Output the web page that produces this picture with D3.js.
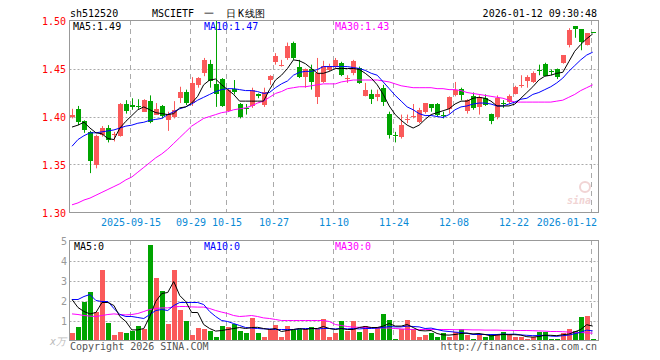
<!DOCTYPE html>
<html lang="zh">
<head>
<meta charset="utf-8">
<title>sh512520 MSCIETF 日K线图</title>
<script src="https://d3js.org/d3.v7.min.js"></script>
<style>
  body { margin: 0; background: #fff; }
  text { font-family: "DejaVu Sans Mono", "Liberation Mono", monospace; font-size: 10px; }
</style>
</head>
<body>
<svg id="kline" width="660" height="360"></svg>
<script>
// trading days shown on the chart
const dates = [
  "2025-09-01","2025-09-02","2025-09-03","2025-09-04","2025-09-05","2025-09-08","2025-09-09","2025-09-10","2025-09-11","2025-09-12",
  "2025-09-15","2025-09-16","2025-09-17","2025-09-18","2025-09-19","2025-09-22","2025-09-23","2025-09-24","2025-09-25","2025-09-26",
  "2025-09-29","2025-09-30","2025-10-09","2025-10-10","2025-10-13","2025-10-14","2025-10-15","2025-10-16","2025-10-17","2025-10-20",
  "2025-10-21","2025-10-22","2025-10-23","2025-10-24","2025-10-27","2025-10-28","2025-10-29","2025-10-30","2025-10-31","2025-11-03",
  "2025-11-04","2025-11-05","2025-11-06","2025-11-07","2025-11-10","2025-11-11","2025-11-12","2025-11-13","2025-11-14","2025-11-17",
  "2025-11-18","2025-11-19","2025-11-20","2025-11-21","2025-11-24","2025-11-25","2025-11-26","2025-11-27","2025-11-28","2025-12-01",
  "2025-12-02","2025-12-03","2025-12-04","2025-12-05","2025-12-08","2025-12-09","2025-12-10","2025-12-11","2025-12-12","2025-12-15",
  "2025-12-16","2025-12-17","2025-12-18","2025-12-19","2025-12-22","2025-12-23","2025-12-24","2025-12-25","2025-12-26","2025-12-29",
  "2025-12-30","2025-12-31","2026-01-05","2026-01-06","2026-01-07","2026-01-08","2026-01-09","2026-01-12"
];

const open = [
  1.400,1.408,1.395,1.384,1.350,1.381,1.388,1.381,1.380,1.413,
  1.412,1.411,1.405,1.416,1.402,1.411,1.397,1.400,1.419,1.425,
  1.414,1.433,1.445,1.455,1.434,1.439,1.406,1.429,1.413,1.409,
  1.411,1.423,1.411,1.438,1.457,1.453,1.460,1.477,1.452,1.442,
  1.450,1.420,1.436,1.449,1.452,1.456,1.439,1.445,1.451,1.422,
  1.423,1.420,1.430,1.403,1.381,1.379,1.396,1.400,1.394,1.405,
  1.413,1.413,1.402,1.408,1.423,1.429,1.406,1.421,1.410,1.419,
  1.403,1.399,1.414,1.415,1.424,1.432,1.437,1.436,1.448,1.455,
  1.447,1.449,1.456,1.474,1.494,1.491,1.475,1.488
];
const high = [
  1.408,1.411,1.396,1.385,1.381,1.390,1.391,1.384,1.414,1.417,
  1.419,1.418,1.418,1.422,1.414,1.412,1.405,1.416,1.431,1.428,
  1.441,1.441,1.461,1.459,1.500,1.440,1.429,1.438,1.414,1.413,
  1.430,1.424,1.430,1.443,1.466,1.459,1.477,1.478,1.459,1.450,
  1.454,1.461,1.458,1.455,1.461,1.457,1.443,1.459,1.452,1.435,
  1.428,1.428,1.433,1.405,1.384,1.402,1.402,1.413,1.409,1.414,
  1.413,1.414,1.405,1.421,1.436,1.430,1.418,1.425,1.422,1.423,
  1.403,1.422,1.417,1.423,1.432,1.443,1.443,1.447,1.454,1.456,
  1.449,1.450,1.464,1.492,1.494,1.491,1.487,1.488
];
const low = [
  1.398,1.391,1.383,1.341,1.346,1.379,1.373,1.374,1.379,1.403,
  1.407,1.408,1.405,1.393,1.402,1.398,1.385,1.398,1.414,1.412,
  1.411,1.430,1.442,1.430,1.410,1.410,1.405,1.423,1.398,1.402,
  1.409,1.419,1.410,1.433,1.454,1.452,1.459,1.459,1.440,1.430,
  1.428,1.413,1.435,1.447,1.450,1.442,1.435,1.443,1.434,1.421,
  1.413,1.416,1.411,1.377,1.373,1.377,1.393,1.398,1.393,1.403,
  1.405,1.400,1.398,1.403,1.421,1.417,1.403,1.407,1.402,1.411,
  1.392,1.397,1.409,1.413,1.423,1.430,1.430,1.435,1.443,1.442,
  1.443,1.439,1.455,1.472,1.482,1.469,1.474,1.487
];
const close = [
  1.402,1.394,1.386,1.354,1.380,1.388,1.376,1.382,1.413,1.406,
  1.410,1.410,1.417,1.394,1.408,1.401,1.403,1.407,1.425,1.414,
  1.435,1.440,1.459,1.437,1.424,1.411,1.428,1.426,1.399,1.408,
  1.428,1.421,1.425,1.442,1.463,1.454,1.473,1.461,1.442,1.450,
  1.436,1.445,1.453,1.453,1.459,1.443,1.440,1.458,1.435,1.428,
  1.418,1.423,1.415,1.381,1.380,1.391,1.397,1.401,1.407,1.414,
  1.409,1.402,1.401,1.420,1.428,1.423,1.417,1.409,1.420,1.412,
  1.396,1.419,1.413,1.421,1.431,1.433,1.441,1.445,1.447,1.443,
  1.446,1.441,1.464,1.490,1.491,1.477,1.487,1.487
];

// price moving averages
const ma5 = [
  1.389,1.391,1.394,1.388,1.383,1.382,1.377,1.376,1.388,1.395,
  1.401,1.407,1.410,1.407,1.404,1.403,1.402,1.403,1.409,1.410,
  1.414,1.421,1.433,1.438,1.439,1.433,1.428,1.423,1.416,1.416,
  1.416,1.416,1.416,1.428,1.438,1.443,1.450,1.459,1.458,1.455,
  1.450,1.445,1.445,1.447,1.450,1.450,1.450,1.450,1.449,1.445,
  1.440,1.433,1.423,1.411,1.402,1.396,1.391,1.388,1.391,1.397,
  1.402,1.404,1.406,1.408,1.413,1.416,1.416,1.419,1.420,1.419,
  1.416,1.411,1.411,1.411,1.413,1.419,1.425,1.431,1.438,1.442,
  1.443,1.445,1.446,1.457,1.468,1.475,1.481,1.486
];
const ma10 = [
  1.369,1.376,1.380,1.383,1.383,1.384,1.385,1.386,1.388,1.390,
  1.391,1.393,1.394,1.396,1.397,1.398,1.402,1.405,1.408,1.410,
  1.413,1.417,1.420,1.423,1.426,1.428,1.429,1.429,1.428,1.427,
  1.427,1.426,1.424,1.425,1.430,1.434,1.437,1.443,1.446,1.447,
  1.447,1.449,1.452,1.452,1.452,1.452,1.452,1.451,1.450,1.448,
  1.445,1.443,1.436,1.429,1.422,1.416,1.410,1.407,1.403,1.401,
  1.401,1.400,1.399,1.402,1.407,1.410,1.411,1.413,1.414,1.414,
  1.413,1.411,1.411,1.413,1.415,1.418,1.419,1.423,1.425,1.428,
  1.431,1.435,1.440,1.447,1.453,1.459,1.464,1.467
];
const ma30 = [
  1.308,1.310,1.313,1.315,1.318,1.321,1.324,1.327,1.330,1.334,
  1.337,1.342,1.347,1.352,1.357,1.361,1.366,1.372,1.378,1.384,
  1.390,1.394,1.398,1.400,1.402,1.404,1.405,1.407,1.408,1.409,
  1.411,1.414,1.416,1.420,1.424,1.426,1.429,1.430,1.431,1.431,
  1.432,1.433,1.434,1.434,1.434,1.436,1.437,1.438,1.438,1.438,
  1.438,1.438,1.437,1.436,1.434,1.432,1.431,1.430,1.430,1.430,
  1.430,1.429,1.429,1.428,1.428,1.427,1.425,1.424,1.423,1.422,
  1.421,1.420,1.419,1.417,1.415,1.415,1.415,1.415,1.415,1.415,
  1.415,1.416,1.417,1.420,1.423,1.427,1.430,1.433
];

// volume, in 万 (10k) units
const volume = [
  0.37,0.67,1.92,2.45,1.42,3.55,0.87,0.30,0.45,0.40,
  0.50,0.75,0.60,4.80,3.15,2.50,0.85,3.55,1.55,0.97,
  0.25,0.62,0.57,0.50,0.20,0.75,0.70,0.85,0.50,0.40,
  1.15,0.37,0.17,0.60,0.80,0.20,0.75,0.55,0.60,0.60,
  0.70,0.60,1.10,0.15,0.37,0.97,0.50,0.97,0.45,0.75,
  0.40,0.70,1.32,1.05,0.10,0.57,1.05,0.60,0.20,0.30,
  0.37,0.15,0.37,0.15,0.45,0.60,0.30,0.10,0.30,0.20,
  0.25,0.30,0.45,0.25,0.20,0.15,0.10,0.15,0.45,0.45,
  0.10,0.05,0.40,0.60,0.50,1.20,1.25,0.05
];
const vma5 = [
  2.05,1.65,1.45,1.33,1.40,1.90,1.90,1.75,1.20,0.95,
  0.53,0.53,0.60,1.20,1.96,2.35,2.40,2.95,2.25,1.95,
  1.40,1.40,0.80,0.60,0.47,0.50,0.55,0.60,0.65,0.60,
  0.65,0.66,0.60,0.55,0.60,0.45,0.50,0.55,0.60,0.55,
  0.60,0.60,0.70,0.60,0.55,0.60,0.55,0.55,0.65,0.70,
  0.65,0.65,0.72,0.85,0.72,0.72,0.80,0.65,0.50,0.48,
  0.50,0.35,0.28,0.27,0.30,0.35,0.37,0.33,0.35,0.30,
  0.23,0.27,0.30,0.29,0.29,0.27,0.19,0.17,0.20,0.26,
  0.26,0.24,0.29,0.32,0.43,0.55,0.79,0.72
];
const vma10 = [
  2.05,2.05,2.20,2.30,2.00,1.95,1.95,1.60,1.30,1.20,
  1.20,1.15,1.10,1.30,1.50,1.55,1.50,1.75,1.90,1.90,
  1.90,1.90,1.80,1.45,1.20,1.00,0.95,0.85,0.75,0.65,
  0.62,0.60,0.58,0.58,0.55,0.55,0.55,0.55,0.58,0.60,
  0.60,0.58,0.60,0.60,0.58,0.60,0.58,0.60,0.58,0.60,
  0.60,0.62,0.65,0.70,0.68,0.68,0.72,0.70,0.68,0.60,
  0.62,0.55,0.48,0.45,0.42,0.40,0.36,0.30,0.30,0.30,
  0.30,0.30,0.32,0.31,0.32,0.28,0.26,0.24,0.25,0.26,
  0.22,0.21,0.24,0.27,0.34,0.41,0.52,0.48
];
const vma30 = [
  1.33,1.30,1.25,1.22,1.20,1.25,1.30,1.33,1.30,1.28,
  1.30,1.35,1.45,1.55,1.60,1.63,1.63,1.68,1.70,1.70,
  1.68,1.67,1.67,1.60,1.50,1.42,1.35,1.25,1.20,1.22,
  1.25,1.20,1.13,1.10,1.05,1.00,1.00,1.00,1.00,1.00,
  1.00,1.00,1.00,0.95,0.80,0.75,0.70,0.67,0.66,0.65,
  0.64,0.63,0.63,0.62,0.60,0.58,0.56,0.55,0.55,0.55,
  0.55,0.55,0.55,0.55,0.54,0.54,0.54,0.53,0.53,0.52,
  0.52,0.52,0.51,0.51,0.50,0.50,0.50,0.49,0.48,0.47,
  0.45,0.45,0.44,0.42,0.41,0.40,0.38,0.37
];

const tickDates = ["2025-09-15","2025-09-29","2025-10-15","2025-10-27","2025-11-10","2025-11-24","2025-12-08","2025-12-22","2026-01-12"];
const tickLabels = ["2025-09-15","09-29","10-15","10-27","11-10","11-24","12-08","12-22","2026-01-12"];
const priceTicks = [1.30, 1.35, 1.40, 1.45, 1.50];
const volTicks = [1, 2, 3, 4, 5];

const RED = "#fa5a5a", GREEN = "#00a400", GRID = "#aaaaaa";

const svg = d3.select("#kline");
svg.append("rect").attr("width", 660).attr("height", 360).attr("fill", "#fff");

const L = 69.5, R = 598.5;
const x = d3.scalePoint().domain(dates).range([72, 592.7]);
const y = d3.scaleLinear().domain([1.30, 1.50]).range([212.5, 20.5]);
const yv = d3.scaleLinear().domain([0, 5]).range([340.5, 240.5]);
const px = d => Math.round(x(d));

// header
svg.append("text").attr("x", 70).attr("y", 17).attr("fill", "#000").text("sh512520");
svg.append("text").attr("x", 152).attr("y", 17).attr("fill", "#000").text("MSCIETF");
const cjk = [{ t: "一", x: 204 }, { t: "日", x: 226 }, { t: "K", x: 238 }, { t: "线图", x: 245 }];
svg.selectAll("text.ttl").data(cjk).join("text")
  .attr("x", d => d.x).attr("y", 17).attr("fill", "#000")
  .attr("font-size", d => d.t === "K" ? "10px" : "12px")
  .attr("font-family", d => d.t === "K" ? null : "Noto Sans CJK SC")
  .text(d => d.t);
svg.append("text").attr("x", 597).attr("y", 17).attr("text-anchor", "end").attr("fill", "#000").text("2026-01-12 09:30:48");

// grids
const grid = svg.append("g");
grid.selectAll("line.vg").data(tickDates).join("line")
  .attr("x1", d => px(d) - 1.5).attr("x2", d => px(d) - 1.5)
  .attr("y1", 20).attr("y2", 212)
  .attr("stroke", GRID).attr("stroke-dasharray", "5,4");
grid.selectAll("line.vg2").data(tickDates).join("line")
  .attr("x1", d => px(d) - 1.5).attr("x2", d => px(d) - 1.5)
  .attr("y1", 240).attr("y2", 340)
  .attr("stroke", GRID).attr("stroke-dasharray", "5,4");
grid.selectAll("line.hg").data(priceTicks.slice(1, -1)).join("line")
  .attr("x1", L).attr("x2", R).attr("y1", d => Math.round(y(d)) + 0.5).attr("y2", d => Math.round(y(d)) + 0.5)
  .attr("stroke", GRID).attr("stroke-dasharray", "2,2");
grid.selectAll("line.hv").data(volTicks.slice(0, -1)).join("line")
  .attr("x1", L).attr("x2", R).attr("y1", d => Math.round(yv(d)) + 0.5).attr("y2", d => Math.round(yv(d)) + 0.5)
  .attr("stroke", GRID).attr("stroke-dasharray", "2,2");

// watermark
svg.append("text").attr("x", 567).attr("y", 204)
  .attr("fill", "#f1d4d4").attr("font-family", "DejaVu Sans").attr("font-size", "17px")
  .attr("font-weight", "bold").attr("font-style", "italic").text("sina");
svg.append("circle").attr("cx", 585).attr("cy", 187).attr("r", 5).attr("fill", "none").attr("stroke", "#f1d4d4").attr("stroke-width", 2);

// price axis labels
svg.selectAll("text.py").data(priceTicks).join("text")
  .attr("x", 66).attr("y", d => y(d) + 4).attr("text-anchor", "end").attr("fill", "#ff0000")
  .text(d => d.toFixed(2));
// volume axis labels
svg.selectAll("text.vy").data(volTicks).join("text")
  .attr("x", 67).attr("y", d => yv(d) + 4).attr("text-anchor", "end").attr("fill", "#999")
  .text(d => d);
svg.append("text").attr("x", 66).attr("y", 345).attr("text-anchor", "end").attr("fill", "#bbb")
  .attr("font-family", "Noto Sans CJK SC").attr("font-style", "italic").text("x万");

// date labels
svg.selectAll("text.dl").data(tickDates).join("text")
  .attr("x", (d, i) => i === tickDates.length - 1 ? 597 : px(d) - 1)
  .attr("y", 226)
  .attr("text-anchor", (d, i) => i === tickDates.length - 1 ? "end" : "middle")
  .attr("fill", "#0a8ad6")
  .text((d, i) => tickLabels[i]);

// candles
const bars = dates.map((d, i) => ({ d, o: open[i], h: high[i], l: low[i], c: close[i], v: volume[i] }));
const candle = svg.append("g").selectAll("g").data(bars).join("g")
  .attr("fill", b => b.c >= b.o ? RED : GREEN)
  .attr("stroke", b => b.c >= b.o ? RED : GREEN);
candle.append("line")
  .attr("x1", b => px(b.d) + 0.5).attr("x2", b => px(b.d) + 0.5)
  .attr("y1", b => y(b.h)).attr("y2", b => y(b.l));
candle.append("rect")
  .attr("x", b => px(b.d) - 2).attr("width", 5)
  .attr("y", b => Math.round(y(Math.max(b.o, b.c))))
  .attr("height", b => Math.max(1, Math.round(Math.abs(y(b.o) - y(b.c)))))
  .attr("stroke", "none");

// volume bars
svg.append("g").selectAll("rect").data(bars).join("rect")
  .attr("x", b => px(b.d) - 2).attr("width", 5)
  .attr("y", b => Math.round(yv(b.v)))
  .attr("height", b => 340 - Math.round(yv(b.v)))
  .attr("fill", b => b.c >= b.o ? RED : GREEN);

// moving average lines
function maLine(arr, scale, color) {
  svg.append("path").datum(arr)
    .attr("fill", "none").attr("stroke", color).attr("stroke-width", 1)
    .attr("d", d3.line().x((v, i) => x(dates[i])).y(v => scale(v)));
}
maLine(ma30, y, "#ff00ff");
maLine(ma10, y, "#0000ff");
maLine(ma5, y, "#000000");
maLine(vma30, yv, "#ff00ff");
maLine(vma10, yv, "#0000ff");
maLine(vma5, yv, "#000000");

// frames
svg.append("rect").attr("x", L).attr("y", 20.5).attr("width", R - L).attr("height", 192)
  .attr("fill", "none").attr("stroke", "#999");
svg.append("rect").attr("x", L).attr("y", 240.5).attr("width", R - L).attr("height", 100)
  .attr("fill", "none").attr("stroke", "#999");

// legends
const legends = [
  { t: "MA5:1.49", x: 73, y: 30, c: "#000" }, { t: "MA10:1.47", x: 204, y: 30, c: "#0000ff" },
  { t: "MA30:1.43", x: 335, y: 30, c: "#ff00ff" },
  { t: "MA5:0", x: 74, y: 250, c: "#000" }, { t: "MA10:0", x: 204, y: 250, c: "#0000ff" },
  { t: "MA30:0", x: 335, y: 250, c: "#ff00ff" }
];
svg.selectAll("text.lg").data(legends).join("text")
  .attr("x", d => d.x).attr("y", d => d.y).attr("fill", d => d.c).text(d => d.t);

// footer
svg.append("text").attr("x", 70).attr("y", 350).attr("fill", "#555").text("Copyright 2026 SINA.COM");
svg.append("text").attr("x", 597).attr("y", 350).attr("text-anchor", "end").attr("fill", "#555").text("http://finance.sina.com.cn");
</script>
</body>
</html>
